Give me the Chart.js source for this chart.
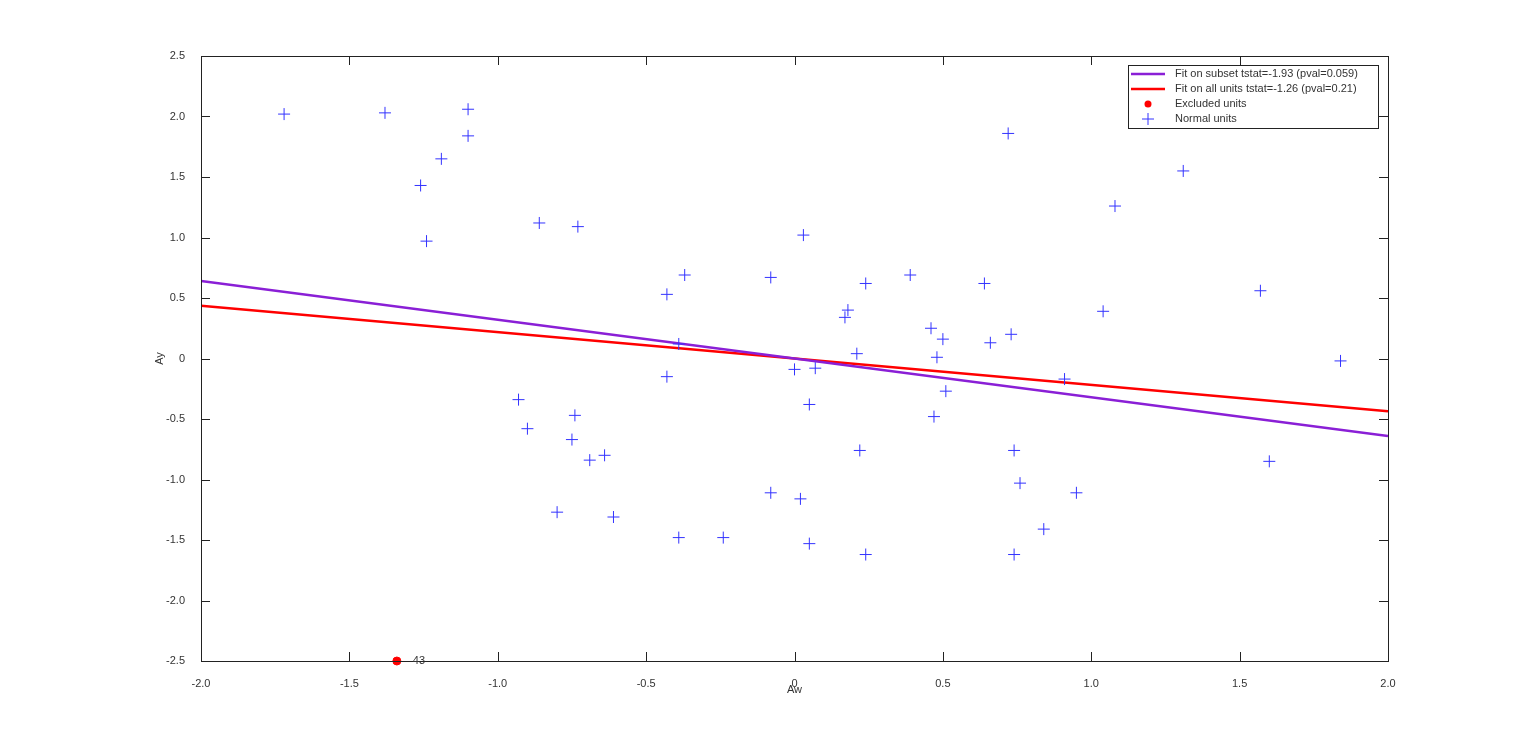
<!DOCTYPE html>
<html><head><meta charset="utf-8">
<script src="https://cdn.jsdelivr.net/npm/chart.js@4"></script>
<style>html,body{margin:0;padding:0;background:#fff}#w{width:1536px;height:744px}</style>
</head><body><div id="w"><canvas id="c"></canvas></div>
<script>
const normalX=[-1.72,-1.38,-1.10,-1.10,-1.19,-1.26,-1.24,-0.86,-0.73,-0.93,-0.90,-0.74,-0.75,-0.69,-0.64,-0.80,-0.61,-0.43,-0.37,-0.39,-0.43,-0.39,-0.24,-0.08,0.00,0.03,0.07,0.05,-0.08,0.02,0.05,0.17,0.18,0.21,0.24,0.22,0.24,0.39,0.46,0.50,0.48,0.51,0.47,0.64,0.66,0.73,0.72,0.74,0.76,0.74,0.84,0.91,0.95,1.04,1.08,1.31,1.57,1.60,1.84];
const normalY=[2.02,2.03,2.06,1.84,1.65,1.43,0.97,1.12,1.09,-0.34,-0.58,-0.47,-0.67,-0.84,-0.80,-1.27,-1.31,0.53,0.69,0.12,-0.15,-1.48,-1.48,0.67,-0.09,1.02,-0.08,-0.38,-1.11,-1.16,-1.53,0.34,0.40,0.04,0.62,-0.76,-1.62,0.69,0.25,0.16,0.01,-0.27,-0.48,0.62,0.13,0.20,1.86,-0.76,-1.03,-1.62,-1.41,-0.17,-1.11,0.39,1.26,1.55,0.56,-0.85,-0.02];
const excludedX=[-1.34], excludedY=[-2.5], excludedLabels=["43"];
const fitSubsetX=[-2,2], fitSubsetY=[0.64,-0.64];
const fitAllX=[-2,2], fitAllY=[0.435,-0.435];
const xTicks=[-2,-1.5,-1,-0.5,0,0.5,1,1.5,2];
const yTicks=[-2.5,-2,-1.5,-1,-0.5,0,0.5,1,1.5,2,2.5];
const legendLabels=["Fit on subset tstat=-1.93 (pval=0.059)","Fit on all units tstat=-1.26 (pval=0.21)","Excluded units","Normal units"];
const zip=(a,b)=>a.map((v,i)=>({x:v,y:b[i]}));
const FONT='11px "Liberation Sans", Arial, sans-serif';
const plug={id:'deco',afterDatasetsDraw(ch){
 const c=ch.ctx,a=ch.chartArea,xs=ch.scales.x,ys=ch.scales.y;
 c.save();c.strokeStyle='#222';c.lineWidth=1;
 c.strokeRect(a.left+0.5,a.top+0.5,a.right-a.left,a.bottom-a.top);
 c.beginPath();
 xTicks.forEach(v=>{const p=Math.round(xs.getPixelForValue(v))+0.5;c.moveTo(p,a.bottom);c.lineTo(p,a.bottom-9);c.moveTo(p,a.top);c.lineTo(p,a.top+9);});
 yTicks.forEach(v=>{const p=Math.round(ys.getPixelForValue(v))+0.5;c.moveTo(a.left,p);c.lineTo(a.left+9,p);c.moveTo(a.right,p);c.lineTo(a.right-9,p);});
 c.stroke();
 c.font=FONT;c.fillStyle='#333';
 excludedX.forEach((v,i)=>{c.textAlign='left';c.textBaseline='middle';c.fillText(excludedLabels[i],xs.getPixelForValue(v)+16,ys.getPixelForValue(excludedY[i]));});
 c.textAlign='center';c.textBaseline='top';c.fillText('Aw',(a.left+a.right)/2,684);
 c.save();c.translate(160,(a.top+a.bottom)/2);c.rotate(-Math.PI/2);c.textBaseline='middle';c.fillText('Ay',0,0);c.restore();
 // legend
 const lx=1128,ly=65,lw=250,lh=63;
 c.fillStyle='#fff';c.fillRect(lx,ly,lw,lh);c.strokeStyle='#222';c.strokeRect(lx+0.5,ly+0.5,lw,lh);
 const ds=ch.data.datasets;const order=[0,1,2,3];
 order.forEach((k,i)=>{const y=ly+9+i*15,d=ds[k];
  if(k<2){c.strokeStyle=d.borderColor;c.lineWidth=2.5;c.beginPath();c.moveTo(lx+3,y);c.lineTo(lx+37,y);c.stroke();}
  else if(k==2){c.fillStyle='#ff0000';c.beginPath();c.arc(lx+20,y,3.5,0,Math.PI*2);c.fill();}
  else{c.strokeStyle='#3333ff';c.lineWidth=1;c.beginPath();c.moveTo(lx+14,y);c.lineTo(lx+26,y);c.moveTo(lx+20,y-6);c.lineTo(lx+20,y+6);c.stroke();}
  c.fillStyle='#333';c.textAlign='left';c.textBaseline='middle';c.fillText(legendLabels[k],lx+47,y);});
 c.restore();}};
new Chart(document.getElementById('c'),{type:'scatter',
 data:{datasets:[
  {label:legendLabels[0],type:'line',data:zip(fitSubsetX,fitSubsetY),borderColor:'#8a1fd6',borderWidth:2.5,pointRadius:0,fill:false,order:2},
  {label:legendLabels[1],type:'line',data:zip(fitAllX,fitAllY),borderColor:'#ff0000',borderWidth:2.5,pointRadius:0,fill:false,order:2},
  {label:legendLabels[2],data:zip(excludedX,excludedY),pointStyle:'circle',pointRadius:4,backgroundColor:'#ff0000',borderColor:'#ff0000',clip:false,order:1},
  {label:legendLabels[3],data:zip(normalX,normalY),pointStyle:'cross',pointRadius:6,borderColor:'#3333ff',borderWidth:1,order:1}
 ]},
 options:{responsive:true,maintainAspectRatio:false,animation:false,
  layout:{padding:{top:56,right:148,left:0,bottom:0}},
  plugins:{legend:{display:false},tooltip:{enabled:false}},
  scales:{
   x:{type:'linear',min:-2,max:2,afterBuildTicks(s){s.ticks=xTicks.map(v=>({value:v}));},afterFit(s){s.height=83;},
      grid:{display:false},border:{display:false},ticks:{padding:8,color:'#333',font:{family:'"Liberation Sans", Arial',size:11}}},
   y:{type:'linear',min:-2.5,max:2.5,afterBuildTicks(s){s.ticks=yTicks.map(v=>({value:v}));},afterFit(s){s.width=201;},
      grid:{display:false},border:{display:false},ticks:{padding:8,color:'#333',font:{family:'"Liberation Sans", Arial',size:11}}}
  }},
 plugins:[plug]});
</script></body></html>
